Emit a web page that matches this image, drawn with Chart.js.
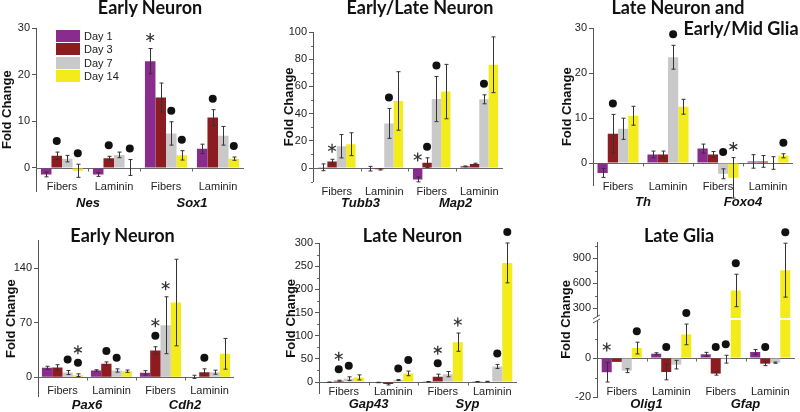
<!DOCTYPE html>
<html>
<head>
<meta charset="utf-8">
<script src="https://cdn.jsdelivr.net/npm/chart.js@4.4.1/dist/chart.umd.min.js"></script>
<style>
  html, body { margin:0; padding:0; background:#fff; }
  #wrap { position:relative; width:800px; height:412px; overflow:hidden; }
  canvas { position:absolute; }
  .ttl { position:absolute; font:700 18px Lato, sans-serif; color:#111; white-space:nowrap; transform:translateX(-50%); line-height:20px; }
  .leg { position:absolute; font:11px "Liberation Sans", Arial, sans-serif; color:#222; line-height:12px; }
  .sw { position:absolute; width:24px; height:12px; }
</style>
</head>
<body>
<div id="wrap"></div>
<script>
// shared
const days = ['Day 1', 'Day 3', 'Day 7', 'Day 14'];
const colors = ['#8a2b8e', '#8c1c20', '#c9c9c9', '#f3eb1a'];
const conditions = ['Fibers', 'Laminin', 'Fibers', 'Laminin'];

// rows = Day 1, Day 3, Day 7, Day 14 ; columns = conditions
// marks: d = dot, s = asterisk, sd = asterisk over dot

// Early Neuron (Nes / Sox1)
const p1Genes = ['Nes', 'Sox1'];
const p1Mean = [[-1.4, -1.4, 22.9, 4.1], [2.6, 2.1, 15.1, 10.8], [2.0, 2.8, 7.4, 6.9], [-0.6, 0.1, 2.7, 2.0]];
const p1Err  = [[0.5, 0.4, 2.7, 1.0], [0.8, 0.4, 3.1, 1.7], [0.7, 0.6, 2.5, 2.0], [1.4, 1.7, 1.0, 0.35]];
const p1Marks = [['', '', 's', ''], ['d', 'd', '', 'd'], ['', '', 'd', ''], ['d', 'd', 'd', 'd']];
const p1Ticks = [0, 10, 20, 30];

// Early/Late Neuron (Tubb3 / Map2)
const p2Genes = ['Tubb3', 'Map2'];
const p2Mean = [[0.5, -0.5, -8.4, 1.2], [4.7, -1.0, 3.9, 3.0], [16.0, 32.8, 50.7, 50.5], [17.5, 49.3, 56.2, 75.9]];
const p2Err  = [[2.5, 1.7, 1.8, 0.3], [1.7, 0.5, 3.6, 0.5], [8.6, 11.0, 16.6, 3.3], [8.4, 21.5, 20.0, 20.5]];
const p2Marks = [['', '', 's', ''], ['s', '', 'd', ''], ['', 'd', 'd', 'd'], ['', '', '', '']];
const p2Ticks = [0, 20, 40, 60, 80, 100];
const p2Minor = [-10, 10, 30, 50, 70, 90];

// Late Neuron and Early/Mid Glia (Th / Foxo4)
const p3Genes = ['Th', 'Foxo4'];
const p3Mean = [[-2.2, 1.9, 3.2, 0.35], [6.5, 1.9, 1.9, 0.35], [7.6, 23.5, -2.4, 0.0], [10.5, 12.5, -3.3, 1.6]];
const p3Err  = [[1.0, 0.75, 1.0, 1.5], [4.3, 0.75, 0.65, 1.3], [2.35, 2.65, 1.1, 1.4], [2.1, 1.65, 4.5, 0.45]];
const p3Marks = [['', '', '', ''], ['d', '', '', ''], ['', 'd', 'd', ''], ['', '', 's', 'd']];
const p3Ticks = [0, 10, 20, 30];

// Early Neuron (Pax6 / Cdh2)
const p4Genes = ['Pax6', 'Cdh2'];
const p4Mean = [[12.0, 8.6, 5.6, 0.5], [12.5, 17.2, 34.3, 6.4], [6.0, 8.6, 66.6, 6.4], [2.6, 7.7, 95.7, 30.0]];
const p4Err  = [[2.0, 1.0, 2.8, 2.0], [3.5, 2.4, 4.7, 4.3], [2.6, 2.1, 36.5, 2.6], [1.7, 1.5, 55.5, 19.7]];
const p4Marks = [['', '', '', ''], ['', 'd', 'sd', 'd'], ['d', 'd', 's', ''], ['sd', '', '', '']];
const p4Ticks = [0, 70, 140];

// Late Neuron (Gap43 / Syp)
const p5Genes = ['Gap43', 'Syp'];
const p5Mean = [[-0.5, -1.0, 0.5, 0.7], [2.9, -4.3, 11.5, 1.0], [7.2, 4.3, 17.0, 33.6], [10.0, 18.6, 86.0, 257.0]];
const p5Err  = [[0.5, 0.5, 0.5, 0.5], [1.0, 2.0, 5.4, 0.5], [4.0, 1.0, 5.7, 4.3], [5.4, 5.0, 19.7, 43.0]];
const p5Marks = [['', '', '', ''], ['sd', '', 'sd', ''], ['d', 'd', '', 'd'], ['', 'd', 's', 'd']];
const p5Ticks = [0, 50, 100, 150, 200, 250, 300];
const p5Minor = [25, 75, 125, 175, 225, 275];

// Late Glia (Olig1 / Gfap), broken axis
const p6Genes = ['Olig1', 'Gfap'];
const p6Mean = [[-7.3, 2.2, 1.9, 3.1], [-2.0, -7.2, -8.0, -2.9], [-6.5, -3.4, -0.6, -2.4], [5.1, 12.1, 512, 756]];
const p6Err  = [[5.0, 0.5, 1.0, 1.3], [0, 4.0, 0.8, 1.0], [1.0, 2.2, 2.0, 0.3], [3.0, 5.3, 195, 324]];
const p6Marks = [['s', '', '', ''], ['', 'd', 'd', 'd'], ['', '', 'd', ''], ['d', 'd', 'd', 'd']];
const p6Ticks = [-20, 0, 300, 600, 900];
const p6Minor = [-10, 10, 450, 750, 1050];

const FONT = '"Liberation Sans", Arial, sans-serif';
Chart.defaults.font.family = FONT;
const wrap = document.getElementById('wrap');

// piecewise axis for the Late Glia panel: linear below 20, compressed above 180
function glia(v){ return v <= 20 ? v : 25.6 + (v - 300) * 0.04267; }

function star(ctx, cx, cy){
  ctx.save();
  ctx.strokeStyle = '#333'; ctx.lineWidth = 1.3;
  ctx.beginPath();
  for (let k = 0; k < 3; k++){
    const a = Math.PI / 2 + k * Math.PI / 3;
    ctx.moveTo(cx - 4.5 * Math.cos(a), cy - 4.5 * Math.sin(a));
    ctx.lineTo(cx + 4.5 * Math.cos(a), cy + 4.5 * Math.sin(a));
  }
  ctx.stroke(); ctx.restore();
}
function dot(ctx, cx, cy){
  ctx.save(); ctx.fillStyle = '#111';
  ctx.beginPath(); ctx.arc(cx, cy, 4, 0, Math.PI * 2); ctx.fill();
  ctx.restore();
}

function extras(o){
  const tf = o.tf || (v => v);
  return {
    id: 'extras',
    beforeDatasetsDraw(chart){
      const {ctx, chartArea: a, scales: {x, y}} = chart;
      const y0 = Math.round(y.getPixelForValue(0)) + 0.5;
      ctx.save();
      ctx.strokeStyle = '#666'; ctx.lineWidth = 1;
      ctx.beginPath();
      ctx.moveTo(a.left, y0); ctx.lineTo(a.right, y0);
      for (let i = 0; i < conditions.length - 1; i++){
        const px = Math.round((x.getPixelForValue(i) + x.getPixelForValue(i + 1)) / 2) + 0.5;
        ctx.moveTo(px, y0); ctx.lineTo(px, y0 + 3);
      }
      (o.minor || []).forEach(m => {
        const py = Math.round(y.getPixelForValue(tf(m))) + 0.5;
        ctx.moveTo(a.left - 2, py); ctx.lineTo(a.left, py);
      });
      ctx.stroke();
      ctx.restore();
    },
    afterDatasetsDraw(chart){
      const {ctx, chartArea: a, scales: {x, y}} = chart;
      const y0 = y.getPixelForValue(0);
      ctx.save();
      if (o.tf){
        // axis break
        const bp = Math.round(y.getPixelForValue(20.25));
        ctx.fillStyle = '#fff';
        ctx.fillRect(a.left + 1, bp - 1, a.right - a.left, 2);
        ctx.fillRect(a.left - 4, bp - 2, 8, 4);
        ctx.strokeStyle = '#555'; ctx.lineWidth = 1;
        ctx.beginPath();
        ctx.moveTo(a.left - 4, bp); ctx.lineTo(a.left + 3, bp - 4);
        ctx.moveTo(a.left - 4, bp + 4); ctx.lineTo(a.left + 3, bp);
        ctx.stroke();
      }
      // error bars
      ctx.strokeStyle = '#333'; ctx.lineWidth = 1;
      ctx.beginPath();
      o.mean.forEach((row, i) => {
        const meta = chart.getDatasetMeta(i);
        row.forEach((m, j) => {
          const e = o.err[i][j];
          if (!e) return;
          const bx = Math.round(meta.data[j].x) + 0.5;
          const t = y.getPixelForValue(tf(m + e)), b = y.getPixelForValue(tf(m - e));
          ctx.moveTo(bx, t); ctx.lineTo(bx, b);
          ctx.moveTo(bx - 2, t); ctx.lineTo(bx + 2, t);
          ctx.moveTo(bx - 2, b); ctx.lineTo(bx + 2, b);
        });
      });
      ctx.stroke();
      // significance marks
      o.marks.forEach((row, i) => {
        const meta = chart.getDatasetMeta(i);
        row.forEach((mk, j) => {
          if (!mk) return;
          const bx = meta.data[j].x;
          const base = Math.min(y.getPixelForValue(tf(o.mean[i][j] + o.err[i][j])), y0);
          let cy = base - 11;
          if (mk.includes('d')){ dot(ctx, bx, cy); cy -= 13; }
          if (mk.includes('s')) star(ctx, bx, cy);
        });
      });
      // condition labels under each group
      ctx.fillStyle = '#222';
      ctx.font = '11px ' + FONT;
      ctx.textAlign = 'center'; ctx.textBaseline = 'middle';
      conditions.forEach((c, k) => ctx.fillText(c, x.getPixelForValue(k), o.labelY - o.y));
      // gene names
      ctx.fillStyle = '#111';
      ctx.font = 'italic bold 13px ' + FONT;
      o.genes.forEach((g, k) => {
        const gx = (x.getPixelForValue(2 * k) + x.getPixelForValue(2 * k + 1)) / 2;
        ctx.fillText(g, gx, o.geneY - o.y);
      });
      ctx.restore();
    }
  };
}

function panel(o){
  const cv = document.createElement('canvas');
  cv.width = o.w; cv.height = o.h;
  cv.style.left = o.x + 'px'; cv.style.top = o.y + 'px';
  cv.style.width = o.w + 'px'; cv.style.height = o.h + 'px';
  wrap.appendChild(cv);
  const tf = o.tf || (v => v);
  const datasets = days.map((d, i) => ({
    label: d,
    data: o.mean[i].map(tf),
    backgroundColor: colors[i],
    borderWidth: 0,
    categoryPercentage: o.cat,
    barPercentage: 1
  }));
  new Chart(cv, {
    type: 'bar',
    data: { labels: conditions, datasets },
    options: {
      responsive: false,
      animation: false,
      devicePixelRatio: 1,
      layout: { padding: { left: 0, right: o.x + o.w - o.right, top: o.top - o.y, bottom: o.y + o.h - o.bot - 10 } },
      plugins: { legend: { display: false }, tooltip: { enabled: false } },
      scales: {
        x: {
          grid: { display: false, drawTicks: false },
          border: { display: false },
          ticks: { display: false },
          afterFit: s => { s.height = 10; }
        },
        y: {
          min: o.min, max: o.max,
          afterBuildTicks: s => { s.ticks = o.ticks.map(v => ({ value: tf(v) })); },
          ticks: { callback: (v, i) => o.ticks[i], padding: 2, font: { size: 11 }, color: '#222' },
          grid: { drawOnChartArea: false, tickLength: 4, color: '#555' },
          border: { color: '#555' },
          title: { display: true, text: 'Fold Change', font: { size: 13, weight: 'bold' }, color: '#111', padding: 0 },
          afterFit: s => { s.width = o.ax - o.x; }
        }
      }
    },
    plugins: [extras(o)]
  });
}

panel({ x: 0, y: 0, w: 250, h: 215, ax: 36, top: 28, bot: 191.3, right: 244, min: -5, max: 30,
  ticks: p1Ticks, labelY: 187, geneY: 203, cat: 0.81, genes: p1Genes, mean: p1Mean, err: p1Err, marks: p1Marks });
panel({ x: 282, y: 0, w: 230, h: 215, ax: 313, top: 32, bot: 181.6, right: 503, min: -10, max: 100,
  ticks: p2Ticks, minor: p2Minor, labelY: 192, geneY: 203, cat: 0.79, genes: p2Genes, mean: p2Mean, err: p2Err, marks: p2Marks });
panel({ x: 560, y: 0, w: 240, h: 215, ax: 593, top: 28, bot: 185.5, right: 793, min: -5, max: 30,
  ticks: p3Ticks, labelY: 187, geneY: 202, cat: 0.82, genes: p3Genes, mean: p3Mean, err: p3Err, marks: p3Marks });
panel({ x: 4, y: 215, w: 240, h: 197, ax: 38, top: 240.7, bot: 396.7, right: 234, min: -25, max: 175,
  ticks: p4Ticks, labelY: 391, geneY: 405, cat: 0.84, genes: p4Genes, mean: p4Mean, err: p4Err, marks: p4Marks });
panel({ x: 284, y: 215, w: 240, h: 197, ax: 319, top: 243, bot: 393.6, right: 517, min: -25, max: 300,
  ticks: p5Ticks, minor: p5Minor, labelY: 392, geneY: 404, cat: 0.81, genes: p5Genes, mean: p5Mean, err: p5Err, marks: p5Marks });
panel({ x: 559, y: 215, w: 241, h: 197, ax: 597, top: 242, bot: 397, right: 795, min: -20, max: 59.5, tf: glia,
  ticks: p6Ticks, minor: p6Minor, labelY: 392, geneY: 404, cat: 0.81, genes: p6Genes, mean: p6Mean, err: p6Err, marks: p6Marks });

// panel titles
[['Early Neuron', 150, 13.5], ['Early/Late Neuron', 420, 13.5], ['Late Neuron and', 678, 13.5],
 ['Early/Mid Glia', 741, 35], ['Early Neuron', 122.5, 241.5], ['Late Neuron', 412.5, 242], ['Late Glia', 679, 242]]
  .forEach(([t, cx, base]) => {
    const d = document.createElement('div');
    d.className = 'ttl'; d.textContent = t;
    d.style.left = cx + 'px'; d.style.top = (base - 17) + 'px';
    wrap.appendChild(d);
  });

// legend
days.forEach((d, i) => {
  const sw = document.createElement('div');
  sw.className = 'sw';
  sw.style.left = '56px'; sw.style.top = (30 + i * 13.3) + 'px'; sw.style.background = colors[i];
  wrap.appendChild(sw);
  const lb = document.createElement('div');
  lb.className = 'leg'; lb.textContent = d;
  lb.style.left = '84px'; lb.style.top = (30 + i * 13.3) + 'px';
  wrap.appendChild(lb);
});
</script>
</body>
</html>
